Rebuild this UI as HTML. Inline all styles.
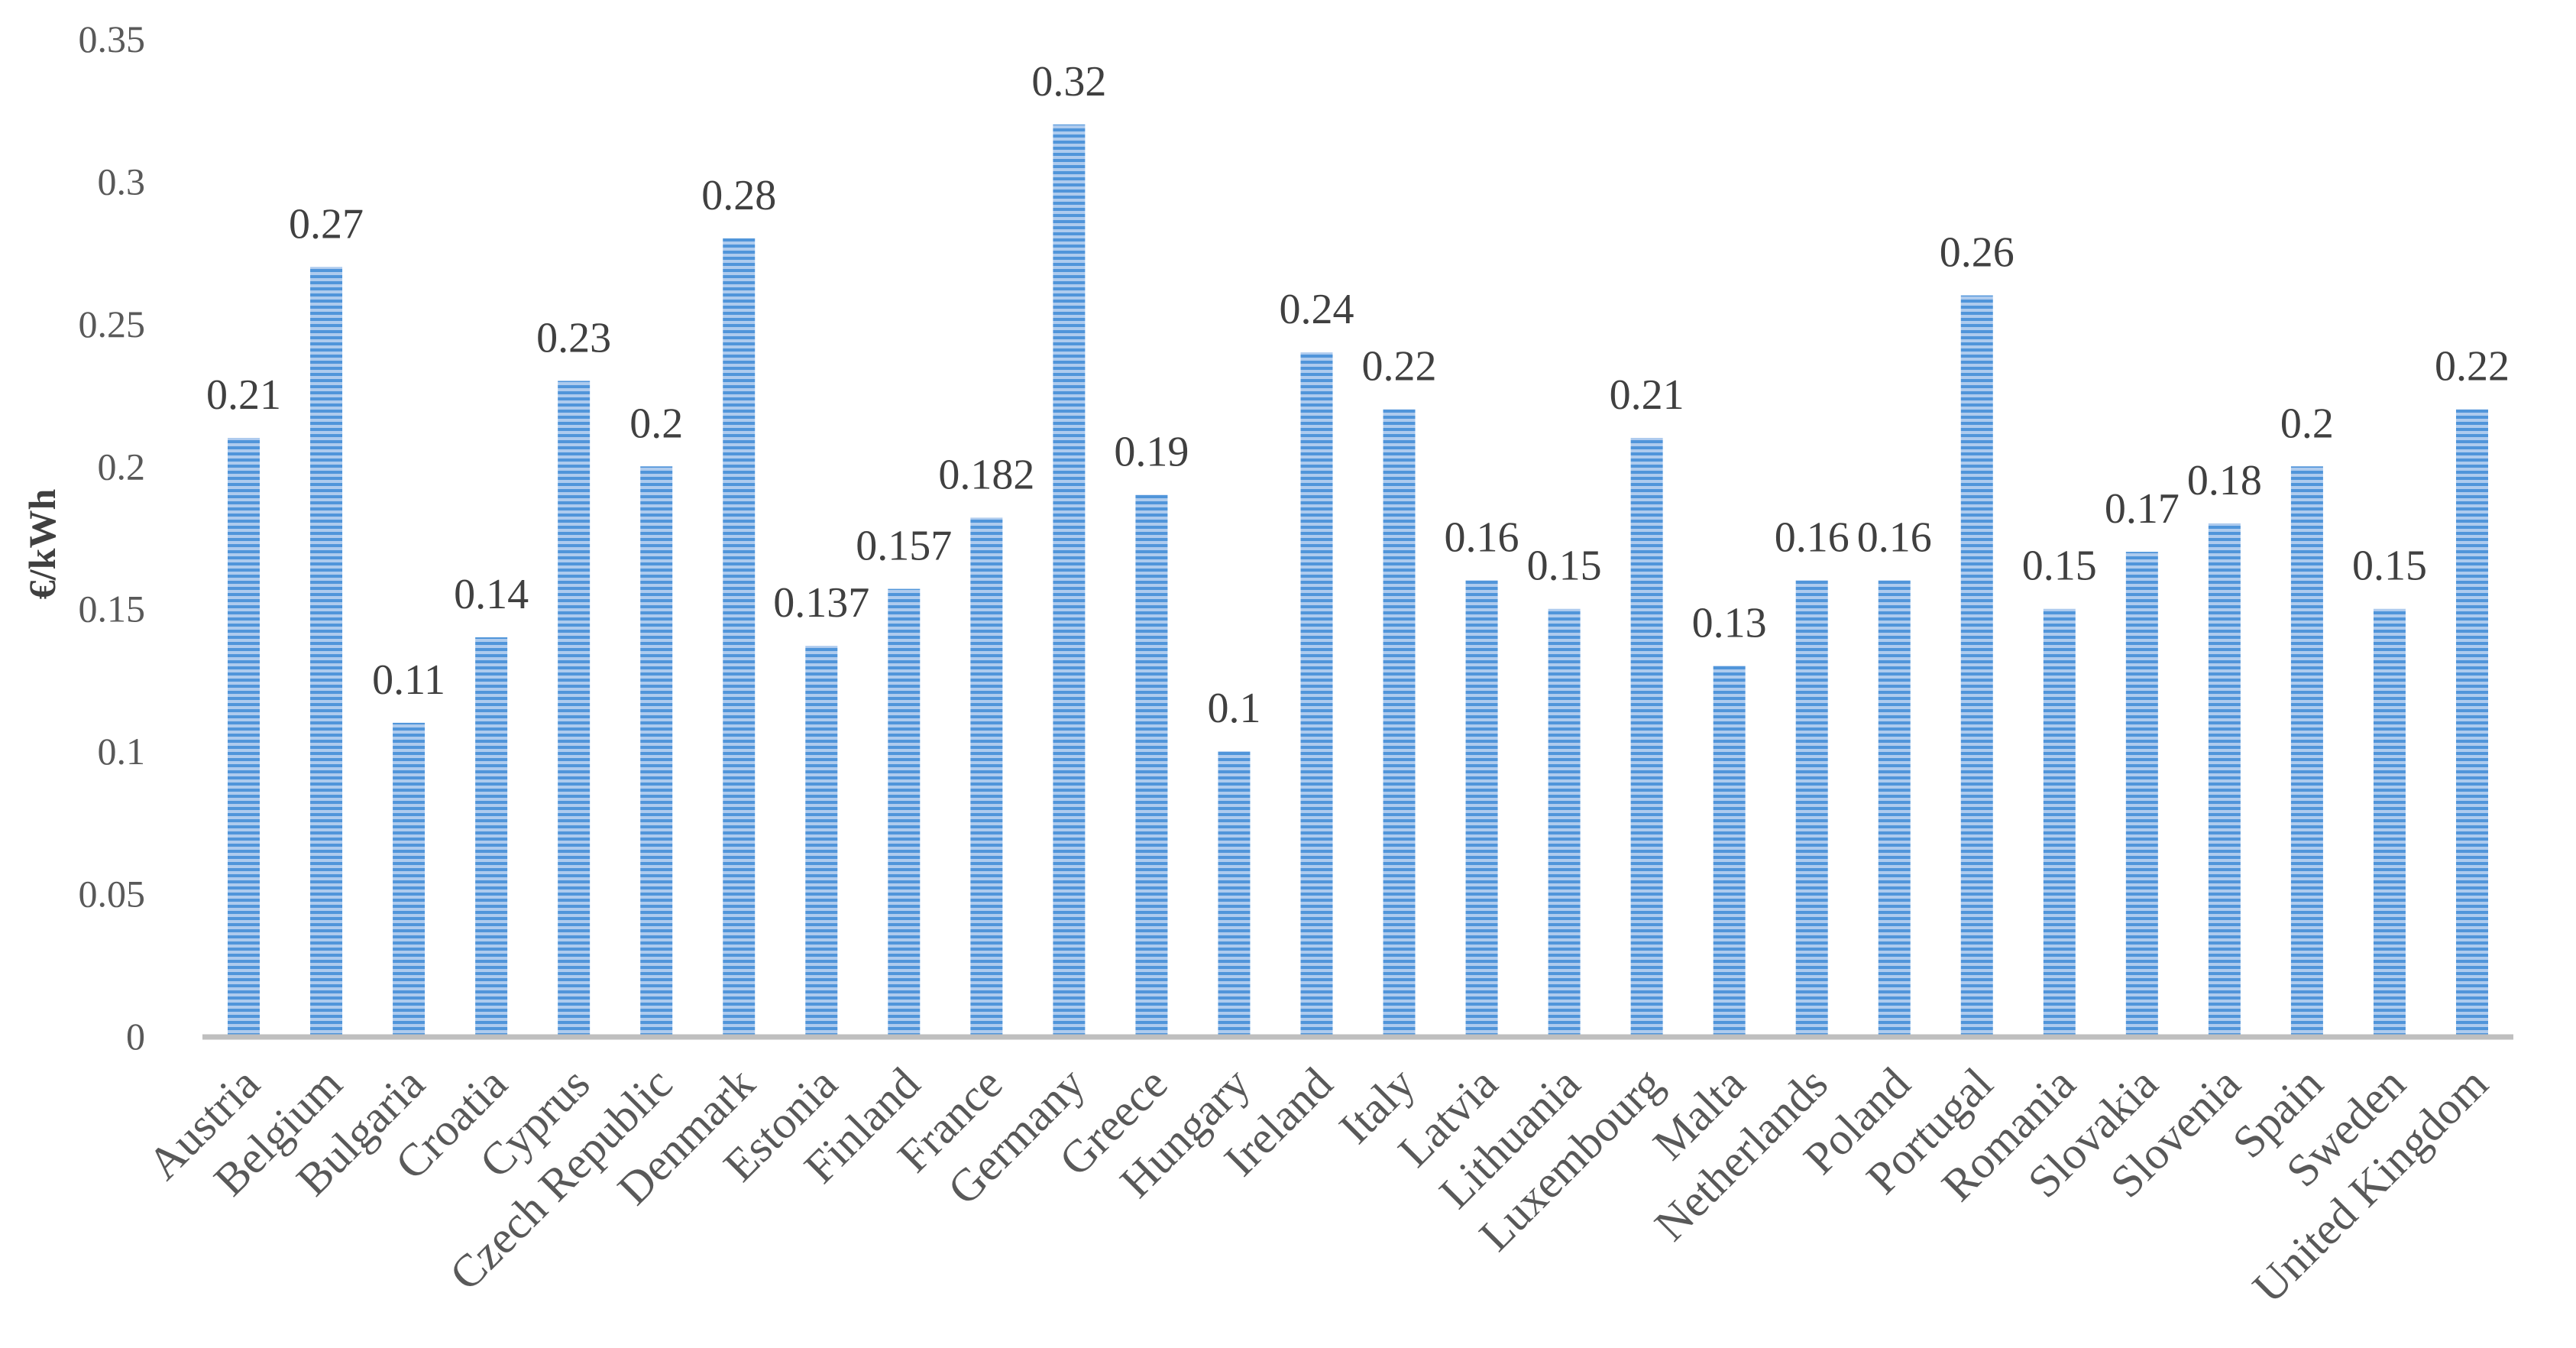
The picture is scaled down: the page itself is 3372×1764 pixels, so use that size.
<!DOCTYPE html>
<html><head><meta charset="utf-8"><style>
html,body{margin:0;padding:0;background:#fff;}
svg{display:block;font-family:"Liberation Serif",serif;}
</style></head><body>
<svg id="chart" width="3372" height="1764" viewBox="0 0 3372 1764" xmlns="http://www.w3.org/2000/svg">
<defs>
<pattern id="stripes" patternUnits="userSpaceOnUse" width="10" height="8">
<rect width="10" height="8" fill="#aecbee"/>
<rect width="10" height="4" fill="#5095da"/>
</pattern>
</defs>
<g id="plot"></g>
</svg>
<script>
const categories = ["Austria","Belgium","Bulgaria","Croatia","Cyprus","Czech Republic","Denmark","Estonia","Finland","France","Germany","Greece","Hungary","Ireland","Italy","Latvia","Lithuania","Luxembourg","Malta","Netherlands","Poland","Portugal","Romania","Slovakia","Slovenia","Spain","Sweden","United Kingdom"];
const values = [0.21,0.27,0.11,0.14,0.23,0.2,0.28,0.137,0.157,0.182,0.32,0.19,0.1,0.24,0.22,0.16,0.15,0.21,0.13,0.16,0.16,0.26,0.15,0.17,0.18,0.2,0.15,0.22];
const valueLabels = ["0.21","0.27","0.11","0.14","0.23","0.2","0.28","0.137","0.157","0.182","0.32","0.19","0.1","0.24","0.22","0.16","0.15","0.21","0.13","0.16","0.16","0.26","0.15","0.17","0.18","0.2","0.15","0.22"];
const yTicks = [0,0.05,0.1,0.15,0.2,0.25,0.3,0.35];
const yTickLabels = ["0","0.05","0.1","0.15","0.2","0.25","0.3","0.35"];

const NS = "http://www.w3.org/2000/svg";
const plot = document.getElementById('plot');
const x0 = 265, x1 = 3290, yZero = 1356, yTop = 51, yMax = 0.35;
const band = (x1 - x0) / categories.length;
const barW = 42;
function xCenter(i){ return x0 + band * (i + 0.5); }
function yScale(v){ return yZero - (v / yMax) * (yZero - yTop); }
function mk(tag, attrs, text){
  const e = document.createElementNS(NS, tag);
  for (const k in attrs) e.setAttribute(k, attrs[k]);
  if (text !== undefined) e.textContent = text;
  plot.appendChild(e);
  return e;
}

yTicks.forEach((t, i) => {
  const e = mk('text', {x: 190, y: yScale(t) + 17, 'text-anchor': 'end', 'font-size': 50, fill: '#595959'}, yTickLabels[i]);
  
  
});

const yt = mk('text', {x: 0, y: 0, 'text-anchor': 'middle', 'font-size': 50, 'font-weight': 'bold', fill: '#404040', transform: 'translate(72,712) rotate(-90)'}, '€/kWh');



values.forEach((v, i) => {
  const cx = xCenter(i);
  const top = yScale(v);
  const r = mk('rect', {x: cx - barW/2, y: top, width: barW, height: yZero - top, fill: 'url(#stripes)'});
  
  
  const l = mk('text', {x: cx, y: top - 38, 'text-anchor': 'middle', 'font-size': 56, fill: '#404040'}, valueLabels[i]);
  
  
  const c = mk('text', {x: 0, y: 0, 'text-anchor': 'end', 'font-size': 60, fill: '#595959', transform: 'translate(' + (cx + 24) + ',1422) rotate(-45)'}, categories[i]);
  
  
});

const ax = mk('line', {x1: x0, y1: yZero + 1, x2: x1, y2: yZero + 1, stroke: '#bfbfbf', 'stroke-width': 7});


</script>
</body></html>
